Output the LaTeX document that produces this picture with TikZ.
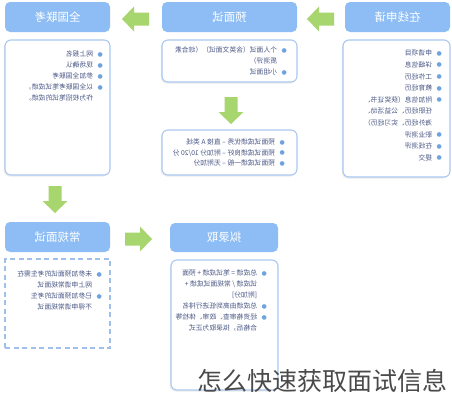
\documentclass[tikz,border=0pt]{standalone}
\usepackage{fontspec}
\usepackage{graphicx}
\setmainfont{Noto Sans CJK SC}
\newfontfamily\dejavu{DejaVu Sans}
\usetikzlibrary{shadows}
\definecolor{hdrblue}{HTML}{8DBDF4}
\definecolor{boxblue}{HTML}{AAC8F0}
\definecolor{dashblue}{HTML}{A0C0EC}
\definecolor{bulblue}{HTML}{6FA3E0}
\definecolor{txtblue}{HTML}{4A5785}
\definecolor{arrowgreen}{HTML}{A8D66E}
\definecolor{titlegray}{HTML}{4A4A4A}
\newcommand\bu{\raisebox{0.6pt}{\textcolor{bulblue}{\dejavu\fontsize{6}{6}\selectfont ●}}}
\newcommand\mlist[2]{\reflectbox{\fontsize{6.8}{#1}\selectfont\color{txtblue}\begin{tabular}{@{}c@{\hspace{4.5pt}}l@{}}#2\end{tabular}}}
\tikzset{
  hdr/.style={fill=hdrblue, draw=none, rounded corners=5pt, text=white,
    font=\fontsize{11.5}{13}\selectfont, inner sep=0pt},
  cbox/.style={draw=boxblue, line width=1.1pt, rounded corners=6pt, fill=white,
    drop shadow={shadow xshift=-1.2pt, shadow yshift=-1.5pt, opacity=0.15}},
  dbox/.style={draw=dashblue, line width=1.1pt, dash pattern=on 5pt off 3.5pt, fill=white},
  txt/.style={anchor=north east, inner sep=0pt},
  blkarrow/.pic={\fill[arrowgreen] (0,0) -- (-12,-12.5) -- (-12,-6.5) -- (-27,-6.5)
     -- (-27,6.5) -- (-12,6.5) -- (-12,12.5) -- cycle;}
}
\begin{document}
\begin{tikzpicture}[x=1pt,y=-1pt]
\useasboundingbox (0,0) rectangle (452,400);
\fill[white] (0,0) rectangle (452,400);

% headers
\node[hdr, minimum width=105pt, minimum height=30pt] (hq) at (57.5,17) {\reflectbox{全国联考}};
\node[hdr, minimum width=135pt, minimum height=30pt] (hy) at (229.5,17) {\reflectbox{预面试}};
\node[hdr, minimum width=105pt, minimum height=30pt] (hz) at (397.5,17) {\reflectbox{在线申请}};
\node[hdr, minimum width=105pt, minimum height=30pt] (hc) at (57.5,237) {\reflectbox{常规面试}};
\node[hdr, minimum width=108pt, minimum height=29pt] (hn) at (224,237.5) {\reflectbox{拟录取}};

% content boxes
\node[cbox, minimum width=105pt, minimum height=135pt] (bq) at (57.5,107.5) {};
\node[cbox, minimum width=135pt, minimum height=42pt] (by1) at (229.5,61) {};
\node[cbox, minimum width=135pt, minimum height=45pt] (by2) at (229.5,152.5) {};
\node[cbox, minimum width=107pt, minimum height=137pt] (bz) at (396.5,108.5) {};
\node[dbox, minimum width=105pt, minimum height=89pt] (bc) at (57.5,303.5) {};
\node[cbox, minimum width=107pt, minimum height=130pt] (bn) at (224.5,325) {};

% arrows
\pic[rotate=180] at (122,19) {blkarrow};
\pic[rotate=180] at (307,19) {blkarrow};
\pic[rotate=-90] at (231,124) {blkarrow};
\pic[rotate=-90] at (55,213) {blkarrow};
\pic at (152,239) {blkarrow};

% texts
\node[txt] (tq) at (103,48.9) {\mlist{11pt}{\bu & 网上报名\\ \bu & 现场确认\\ \bu & 参加全国联考\\ \bu & 以全国联考笔试成绩，\\ & 作为校招笔试的成绩。}};
\node[txt] (ty1) at (287,44.9) {\mlist{11pt}{\bu & 个人面试（含英文面试）（综合素\\ & 质测评）\\ \bu & 小组面试}};
\node[txt] (ty2) at (285,137.2) {\mlist{10.5pt}{\bu & 预面试成绩优秀 – 直接 A 类线\\ \bu & 预面试成绩良好 – 附加分 10/20 分\\ \bu & 预面试成绩一般 – 无附加分}};
\node[txt] (tz) at (442,47.5) {\mlist{11.6pt}{\bu & 申请项目\\ \bu & 详细信息\\ \bu & 工作经历\\ \bu & 教育经历\\ \bu & 附加信息（获奖证书、\\ & 任职经历、公益活动、\\ & 海外经历、实习经历）\\ \bu & 职业测评\\ \bu & 在线测评\\ \bu & 提交}};
\node[txt] (tc) at (102,268.9) {\mlist{11pt}{\bu & 未参加预面试的考生需在\\ & 网上申请常规面试\\ \bu & 已参加预面试的考生\\ & 不得申请常规面试}};
\node[txt] (tn) at (267,268) {\mlist{11pt}{\bu & 总成绩 = 笔试成绩 + 预面\\ & 试成绩 / 常规面试成绩 +\\ & [附加分]\\ \bu & 总成绩由高到低进行排名\\ \bu & 经资格审查、政审、体检等\\ & 合格后，拟录取为正式}};

% title
\node[font=\fontsize{25}{28}\selectfont, text=titlegray, inner sep=0pt] (title) at (322,381) {怎么快速获取面试信息};
\end{tikzpicture}
\end{document}
